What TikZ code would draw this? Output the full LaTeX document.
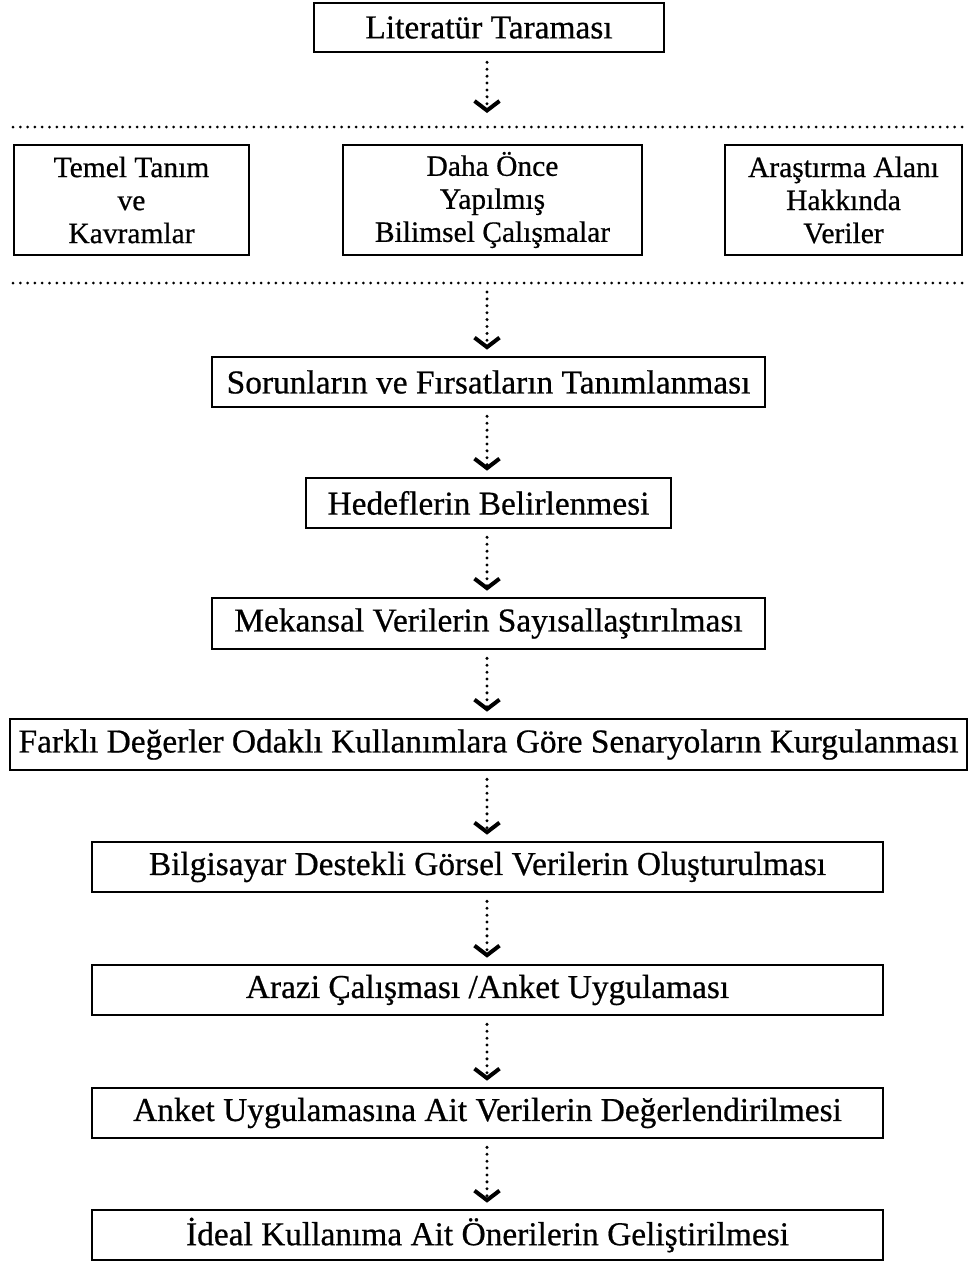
\documentclass[tikz,border=0pt]{standalone}
\usepackage{fontspec}
\setmainfont{Liberation Serif}[FakeBold=0.6]
\usetikzlibrary{arrows.meta}
\begin{document}
\begin{tikzpicture}[x=1pt,y=-1pt,
  stepbox/.style={draw,line width=2.7pt,inner sep=0pt,font=\fontsize{33.4}{33}\selectfont},
  srcbox/.style={stepbox,align=center,minimum height=110pt,font=\fontsize{29.5}{33}\selectfont},
  flow/.style={line width=3.3pt,dash pattern=on 0pt off 6.9pt,line cap=round,
    -{Straight Barb[length=9.5pt,width=25pt,line width=4pt,sep=0pt]}},
  sepline/.style={line width=3pt,dash pattern=on 0pt off 7.3pt,line cap=round}]
\useasboundingbox (0,0) rectangle (967,1263);

% first step
\node[stepbox,minimum width=350pt,minimum height=49pt] (lit) at (489,27.5) {Literatür Taraması};

% literature sources between the two dotted rules
\coordinate (s1a) at (13,127); \coordinate (s1b) at (962,127);
\coordinate (s2a) at (13,283); \coordinate (s2b) at (962,283);
\draw[sepline] (s1a) -- (s1b);
\draw[sepline] (s2a) -- (s2b);
\coordinate (in1) at (487,113);
\coordinate (out1) at (487,292);

\node[srcbox,minimum width=235pt] (tem) at (131.5,200) {Temel Tanım\\ve\\Kavramlar};
\node[srcbox,minimum width=299pt] (daha) at (492.5,200) {Daha Önce\\Yapılmış\\Bilimsel Çalışmalar};
\node[srcbox,minimum width=237pt] (ara) at (843.5,200) {Araştırma Alanı\\Hakkında\\Veriler};

% remaining steps
\node[stepbox,minimum width=553pt,minimum height=50pt] (sor) at (488.5,382) {Sorunların ve Fırsatların Tanımlanması};
\node[stepbox,minimum width=365pt,minimum height=50pt] (hed) at (488.5,503) {Hedeflerin Belirlenmesi};
\node[stepbox,minimum width=553pt,minimum height=51pt] (mek) at (488.5,623.5) {Mekansal Verilerin Sayısallaştırılması};
\node[stepbox,minimum width=957pt,minimum height=51pt] (far) at (488.5,744.5) {Farklı Değerler Odaklı Kullanımlara Göre Senaryoların Kurgulanması};
\node[stepbox,minimum width=791pt,minimum height=50pt] (bil) at (487.5,867) {Bilgisayar Destekli Görsel Verilerin Oluşturulması};
\node[stepbox,minimum width=791pt,minimum height=50pt] (arz) at (487.5,990) {Arazi Çalışması /Anket Uygulaması};
\node[stepbox,minimum width=791pt,minimum height=50pt] (ank) at (487.5,1113) {Anket Uygulamasına Ait Verilerin Değerlendirilmesi};
\node[stepbox,minimum width=791pt,minimum height=50pt] (ide) at (487.5,1235) {İdeal Kullanıma Ait Önerilerin Geliştirilmesi};

% connectors (yshift acts on the page, so negative moves down)
\draw[flow] ([yshift=-9pt]lit.south -| in1) -- (in1);
\draw[flow] (out1) -- ([yshift=6pt]sor.north -| out1);
\foreach \a/\b in {sor/hed,hed/mek,mek/far,far/bil,bil/arz,arz/ank,ank/ide}{
  \draw[flow] ([yshift=-8pt]\a.south -| in1) -- ([yshift=6pt]\b.north -| in1);
}
\end{tikzpicture}
\end{document}
